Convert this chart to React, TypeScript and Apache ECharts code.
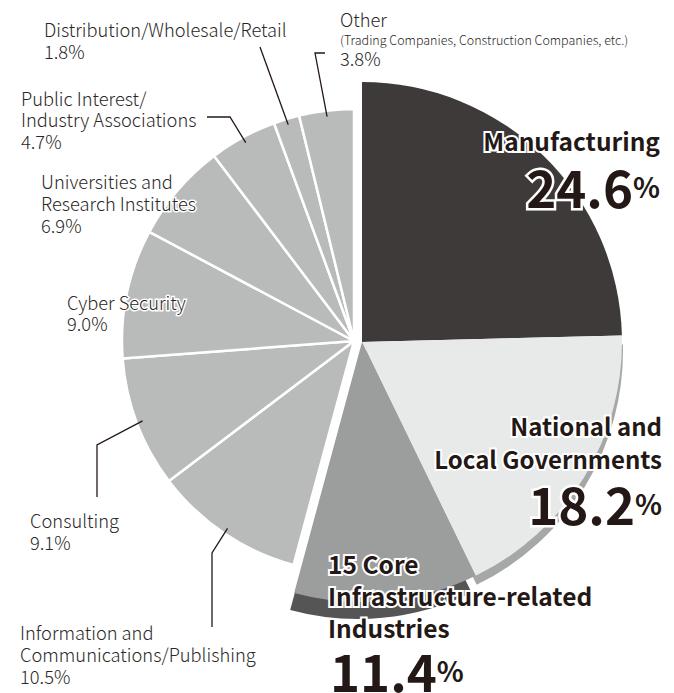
import React, { useEffect, useRef } from "react";
import * as echarts from "echarts";

const categories = [
  "Manufacturing",
  "National and Local Governments",
  "15 Core Infrastructure-related Industries",
  "Information and Communications/Publishing",
  "Consulting",
  "Cyber Security",
  "Universities and Research Institutes",
  "Public Interest/Industry Associations",
  "Distribution/Wholesale/Retail",
  "Other",
];
const shares = [24.6, 18.2, 11.4, 10.5, 9.1, 9.0, 6.9, 4.7, 1.8, 3.8];
const shareLabels = ["24.6", "18.2", "11.4", "10.5%", "9.1%", "9.0%", "6.9%", "4.7%", "1.8%", "3.8%"];

const sliceColors = ["#3d3a39", "#e8e9e9", "#9c9d9d", "#b9baba", "#b9baba", "#b9baba", "#b9baba", "#b9baba", "#b9baba", "#b9baba"];
const bigGroup = [0, 1, 2];
const shadowColors: Record<number, string> = { 1: "#a6a7a7", 2: "#555555" };

const TEXT = "#231815";
const SMALL_FONT = "'Noto Sans CJK JP', 'Noto Sans', sans-serif";
const BOLD_FONT = "'Noto Sans CJK JP', 'Noto Sans', sans-serif";

const BIG_CENTER = [362, 342];
const BIG_R = 260;
const GRAY_CENTER = [354, 341];
const GRAY_R = 232;

function total() {
  return shares.reduce((a, b) => a + b, 0);
}

// anchor point inside a gray slice at its mid angle
function anchor(idx: number, r: number): number[] {
  const t = total();
  let cum = 0;
  for (let i = 0; i < idx; i++) cum += shares[i];
  const mid = (cum + shares[idx] / 2) / t;
  const theta = mid * Math.PI * 2;
  return [GRAY_CENTER[0] + r * Math.sin(theta), GRAY_CENTER[1] - r * Math.cos(theta)];
}

function pieData(pick: (i: number) => string | null) {
  return categories.map((name, i) => {
    const c = pick(i);
    return {
      name,
      value: shares[i],
      itemStyle: c ? { color: c } : { color: "rgba(0,0,0,0)", borderWidth: 0 },
    };
  });
}

function smallText(x: number, y: number, text: string, size = 18.3) {
  return {
    type: "text",
    x,
    y,
    z: 100,
    style: {
      text,
      fill: "#2b2727",
      fontSize: size,
      fontFamily: SMALL_FONT,
      fontWeight: 300,
      verticalAlign: "middle",
      align: "left",
      stroke: "#fff",
      lineWidth: 3,
    },
  } as any;
}

function bigText(x: number, y: number, text: string, align: string, size: number) {
  return {
    type: "text",
    x,
    y,
    z: 100,
    style: {
      text,
      fill: TEXT,
      fontSize: size,
      fontFamily: BOLD_FONT,
      fontWeight: "bold",
      verticalAlign: "middle",
      align,
      stroke: "#fff",
      lineWidth: 4,
    },
  } as any;
}

function bigNumber(x: number, y: number, idx: number, align: string) {
  return {
    type: "text",
    x,
    y,
    z: 100,
    style: {
      text: `{n|${shareLabels[idx]}}{p|%}`,
      align,
      verticalAlign: "middle",
      fill: TEXT,
      stroke: "#fff",
      lineWidth: 5,
      rich: {
        n: { fontFamily: BOLD_FONT, fontWeight: "bold", fontSize: 51, fill: TEXT },
        p: { fontFamily: BOLD_FONT, fontWeight: "bold", fontSize: 28, fill: TEXT },
      },
    },
  } as any;
}

function leader(points: number[][]) {
  return {
    type: "polyline",
    z: 90,
    shape: { points },
    style: { stroke: TEXT, lineWidth: 1.3, fill: null },
  } as any;
}

export default function App() {
  const ref = useRef<HTMLDivElement>(null);
  useEffect(() => {
    if (!ref.current) return;
    const chart = echarts.init(ref.current, undefined, { renderer: "svg" });
    const LR = 226;
    const option: any = {
      animation: false,
      backgroundColor: "#ffffff",
      series: [
        {
          type: "pie",
          center: [BIG_CENTER[0] + 1, BIG_CENTER[1] + 9],
          radius: BIG_R,
          startAngle: 90,
          clockwise: true,
          silent: true,
          z: 1,
          label: { show: false },
          labelLine: { show: false },
          emphasis: { disabled: true },
          data: pieData((i) => (i === 1 ? shadowColors[1] : null)),
        },
        {
          type: "pie",
          center: [BIG_CENTER[0] - 4, BIG_CENTER[1] + 17],
          radius: BIG_R,
          startAngle: 90,
          clockwise: true,
          silent: true,
          z: 2,
          label: { show: false },
          labelLine: { show: false },
          emphasis: { disabled: true },
          data: pieData((i) => (i === 2 ? shadowColors[2] : null)),
        },
        {
          type: "pie",
          center: BIG_CENTER,
          radius: BIG_R,
          startAngle: 90,
          clockwise: true,
          silent: true,
          z: 3,
          label: { show: false },
          labelLine: { show: false },
          emphasis: { disabled: true },
          itemStyle: { borderWidth: 0 },
          data: pieData((i) => (bigGroup.includes(i) ? sliceColors[i] : null)),
        },
        {
          type: "pie",
          center: GRAY_CENTER,
          radius: GRAY_R,
          startAngle: 90,
          clockwise: true,
          silent: true,
          z: 4,
          label: { show: false },
          labelLine: { show: false },
          emphasis: { disabled: true },
          itemStyle: { borderColor: "#ffffff", borderWidth: 2.5 },
          data: pieData((i) => (bigGroup.includes(i) ? null : sliceColors[i])),
        },
      ],
      graphic: [
        // leader lines
        leader([[260, 47], anchor(8, LR)]),
        leader([[325, 53], [315, 53], anchor(9, LR)]),
        leader([[207, 117], [230, 117], anchor(7, LR)]),
        leader([[97, 497], [97, 445], anchor(4, LR)]),
        leader([[212, 627], [212, 553], anchor(3, LR)]),
        // small labels
        smallText(44, 29, "Distribution/Wholesale/Retail"),
        smallText(44, 51, shareLabels[8]),
        smallText(340, 19, "Other"),
        smallText(340, 39, "(Trading Companies, Construction Companies, etc.)", 12.5),
        smallText(340, 58, shareLabels[9]),
        smallText(21, 98, "Public Interest/"),
        smallText(21, 119, "Industry Associations"),
        smallText(21, 141, shareLabels[7]),
        smallText(41, 181, "Universities and"),
        smallText(41, 203, "Research Institutes"),
        smallText(41, 225, shareLabels[6]),
        smallText(67, 302, "Cyber Security"),
        smallText(67, 323, shareLabels[5]),
        smallText(30, 520, "Consulting"),
        smallText(30, 542, shareLabels[4]),
        smallText(20, 632, "Information and"),
        smallText(20, 654, "Communications/Publishing"),
        smallText(20, 676, shareLabels[3]),
        // big labels
        bigText(660, 140, "Manufacturing", "right", 24.5),
        bigNumber(660, 186, 0, "right"),
        bigText(662, 425, "National and", "right", 24),
        bigText(662, 458, "Local Governments", "right", 24),
        bigNumber(662, 503, 1, "right"),
        bigText(328, 563, "15 Core", "left", 24.5),
        bigText(328, 595, "Infrastructure-related", "left", 24.5),
        bigText(328, 627, "Industries", "left", 24.5),
        bigNumber(330, 670, 2, "left"),
      ],
    };
    chart.setOption(option);
    return () => chart.dispose();
  }, []);
  return (
    <div
      ref={ref}
      style={{ position: "fixed", left: 0, top: 0, width: 674, height: 693, background: "#fff" }}
    />
  );
}
